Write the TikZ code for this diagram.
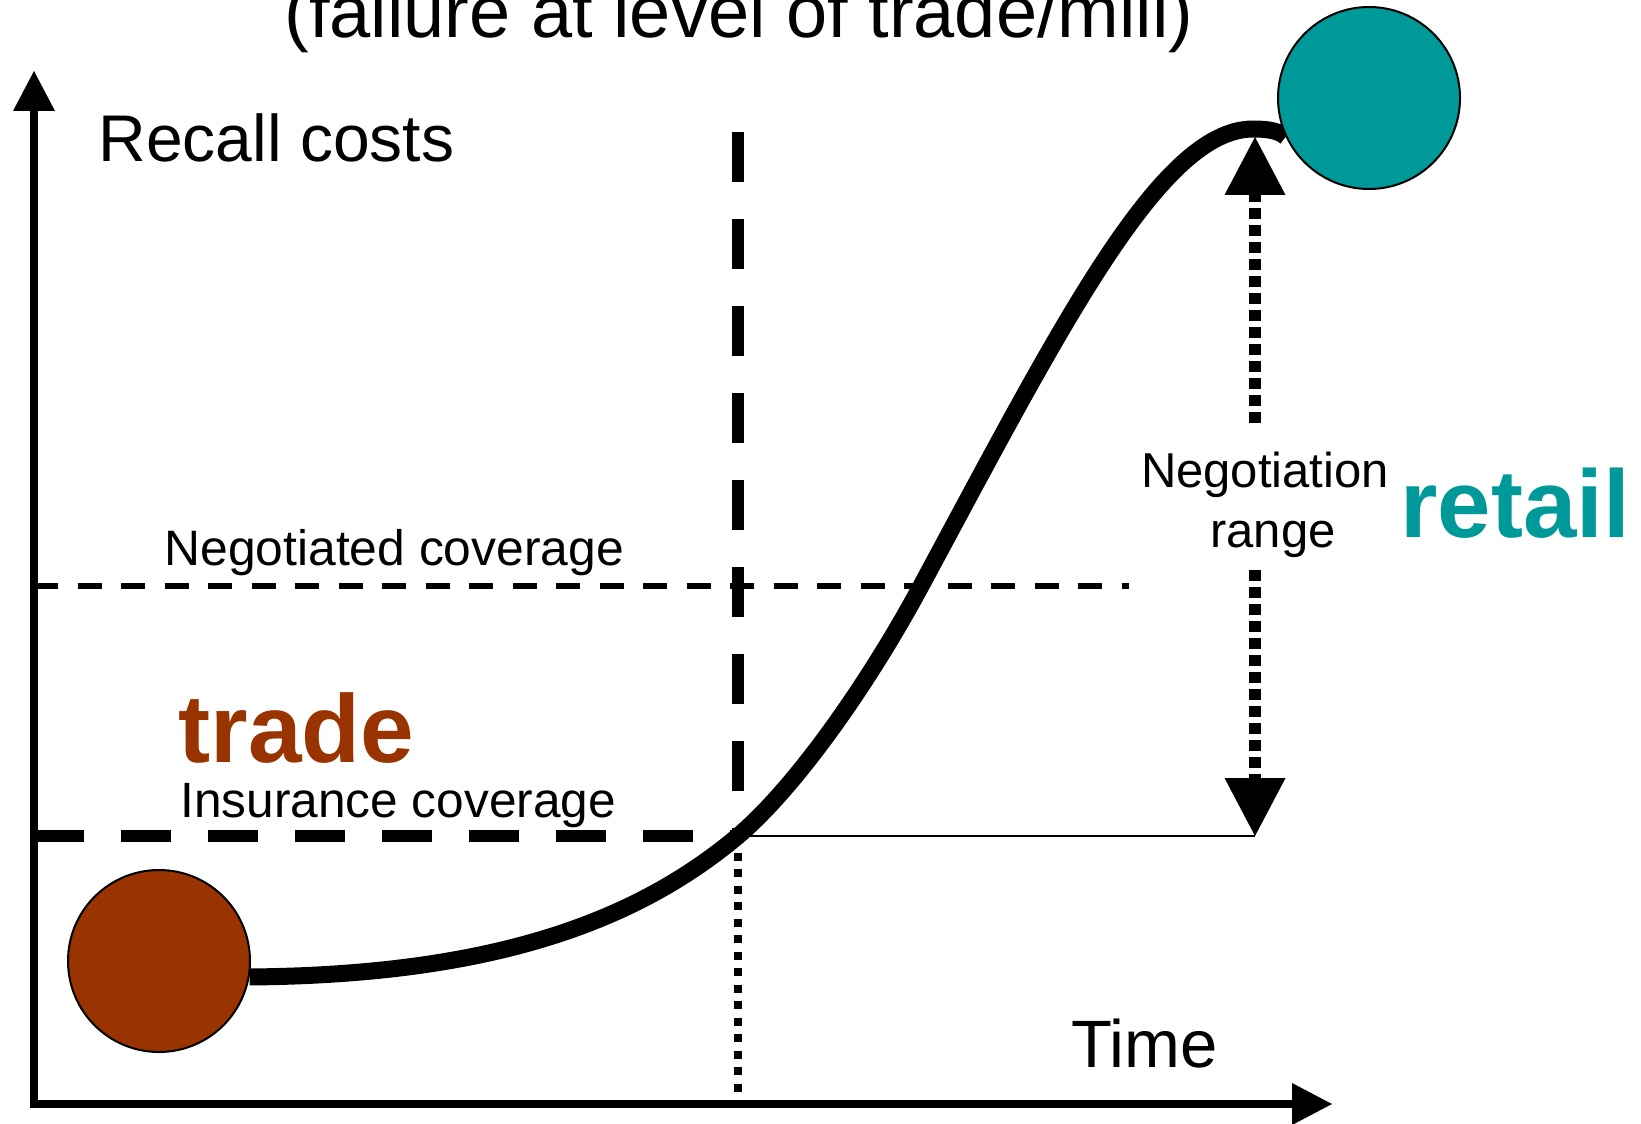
\documentclass[tikz,border=0pt]{standalone}
\usepackage{fontspec}
\setmainfont{Liberation Sans}
\usetikzlibrary{arrows.meta,backgrounds}
\definecolor{tradebrown}{HTML}{993300}
\definecolor{retailteal}{HTML}{009999}
\begin{document}
\begin{tikzpicture}[x=0.5pt,y=-0.5pt,
	lbl/.style={inner sep=0pt,anchor=base west},
	dot/.style={circle,draw,line width=1pt,minimum size=91pt,inner sep=0pt},
	axis/.style={line width=4pt,{Triangle[length=20pt,width=21pt,line width=0pt]}-{Triangle[length=20pt,width=21pt,line width=0pt]}},
	rangearrow/.style={line width=6pt,dash pattern=on 5.5pt off 3pt,-{Triangle[length=29pt,width=30.5pt,line width=0pt]}}]
	\useasboundingbox (0,0) rectangle (1641,1123);
	\node[inner sep=0pt,anchor=base,font=\fontsize{37}{44}\selectfont] (title) at (739,38) {(failure at level of trade/mill)};
	\node[lbl,font=\fontsize{33}{40}\selectfont] (ylabel) at (98,162) {Recall costs};
	\node[lbl,font=\fontsize{33.5}{40}\selectfont] (xlabel) at (1071,1067) {Time};
	\node[lbl,font=\fontsize{24.9}{30}\selectfont] (negcov) at (164,565) {Negotiated coverage};
	\node[lbl,font=\fontsize{24.8}{30}\selectfont] (inscov) at (180,817) {Insurance coverage};
	\node[lbl,font=\bfseries\fontsize{48.2}{56}\selectfont,text=tradebrown] (tradelbl) at (178,762) {trade};
	\node[lbl,font=\bfseries\fontsize{48}{56}\selectfont,text=retailteal] (retaillbl) at (1400,537) {retail};
	\node[inner sep=0pt,anchor=base,font=\fontsize{24.5}{30}\selectfont] (negword) at (1265,487) {Negotiation};
	\node[inner sep=0pt,anchor=base,font=\fontsize{24.5}{30}\selectfont] (rangeword) at (1273,547) {range};
	\node[dot,fill=tradebrown] (tradedot) at (159,961) {};
	\node[dot,fill=retailteal] (retaildot) at (1369,98) {};
	\coordinate (origin) at (34,1104);
	\coordinate (ytop) at (34,71);
	\coordinate (xend) at (1332,1104);
	\coordinate (knee) at (738,836);
	\coordinate (steep) at (921,586);
	\coordinate (peak) at (1253,129);
	\coordinate (negstart) at (34,586);
	\coordinate (negend) at (1129,586);
	\coordinate (insstart) at (34,836);
	\coordinate (vtop) at (738,132);
	\coordinate (vbot) at (738,1100);
	\coordinate (peaktip) at (1255,137);
	\coordinate (rangehi) at (1255,423);
	\coordinate (rangelo) at (1255,570);
	\coordinate (rangebot) at (1255,836);
	\draw[axis] (ytop) -- (origin) -- (xend);
	\draw[line width=3pt,dash pattern=on 12pt off 9.75pt] (negstart) -- (negend);
	\draw[line width=6pt,dash pattern=on 25pt off 18.5pt] (insstart) -- (knee);
	\draw[line width=6pt,dash pattern=on 25pt off 18.5pt] (vtop) -- (knee);
	\draw[line width=4pt,dash pattern=on 4pt off 4.25pt] (knee) -- (vbot);
	\draw[line width=1pt] (knee) -- (rangebot);
	\draw[rangearrow] (rangehi) -- (peaktip);
	\draw[rangearrow] (rangelo) -- (rangebot);
	\begin{scope}[on background layer]
		\draw[line width=8.5pt] (tradedot.-10) .. controls (500,975) and (640,918) .. (knee) .. controls (798,785) and (871,679) .. (steep) .. controls (1060,328) and (1160,129) .. (peak) .. controls (1272,129) and (1280,132) .. (retaildot.205);
	\end{scope}
\end{tikzpicture}
\end{document}
